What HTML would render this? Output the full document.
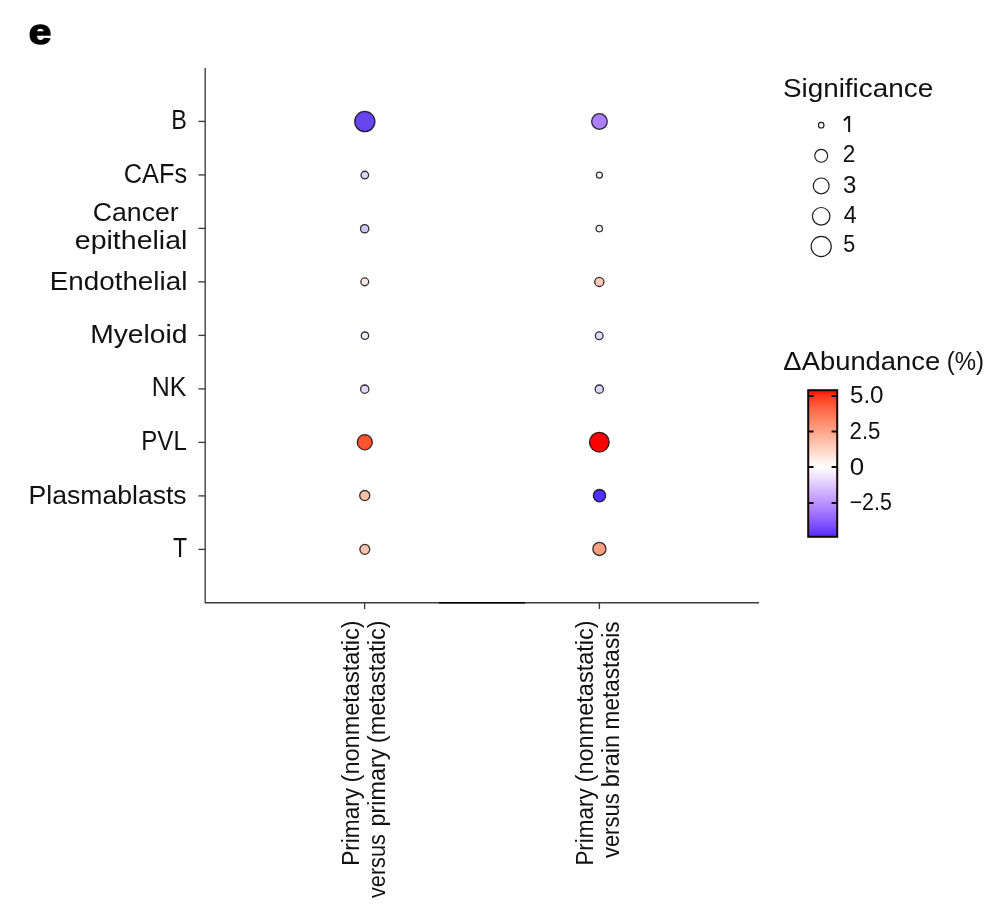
<!DOCTYPE html>
<html><head><meta charset="utf-8"><style>
html,body{margin:0;padding:0;background:#fff;}
svg{display:block;font-family:"Liberation Sans", sans-serif;will-change:transform;}
</style></head><body>
<svg width="1005" height="918" viewBox="0 0 1005 918">
<rect width="1005" height="918" fill="#fff"/>
<text x="28.77" y="44.30" font-size="35" font-weight="bold" fill="#000" textLength="22.59" lengthAdjust="spacingAndGlyphs" stroke="#000" stroke-width="1.4" stroke-linejoin="round">e</text>
<path d="M205.2 68 V602.75 H759.1" fill="none" stroke="#3c3c3c" stroke-width="1.35"/>
<path d="M439 602.75 H525" stroke="#000" stroke-width="1.5"/>
<path d="M198.4 121.40 H205.2" stroke="#3c3c3c" stroke-width="1.35"/>
<path d="M198.4 174.90 H205.2" stroke="#3c3c3c" stroke-width="1.35"/>
<path d="M198.4 228.40 H205.2" stroke="#3c3c3c" stroke-width="1.35"/>
<path d="M198.4 281.90 H205.2" stroke="#3c3c3c" stroke-width="1.35"/>
<path d="M198.4 335.40 H205.2" stroke="#3c3c3c" stroke-width="1.35"/>
<path d="M198.4 388.90 H205.2" stroke="#3c3c3c" stroke-width="1.35"/>
<path d="M198.4 442.40 H205.2" stroke="#3c3c3c" stroke-width="1.35"/>
<path d="M198.4 495.90 H205.2" stroke="#3c3c3c" stroke-width="1.35"/>
<path d="M198.4 549.40 H205.2" stroke="#3c3c3c" stroke-width="1.35"/>
<path d="M364.6 602.75 V609" stroke="#3c3c3c" stroke-width="1.35"/>
<path d="M599.4 602.75 V609" stroke="#3c3c3c" stroke-width="1.35"/>
<text x="171.20" y="129.00" font-size="27.0" font-weight="normal" fill="#111" textLength="15.60" lengthAdjust="spacingAndGlyphs">B</text>
<text x="123.63" y="182.90" font-size="27.0" font-weight="normal" fill="#111" textLength="63.49" lengthAdjust="spacingAndGlyphs">CAFs</text>
<text x="92.77" y="220.80" font-size="26.5" font-weight="normal" fill="#111" textLength="85.99" lengthAdjust="spacingAndGlyphs">Cancer</text>
<text x="74.86" y="249.30" font-size="26.5" font-weight="normal" fill="#111" textLength="112.45" lengthAdjust="spacingAndGlyphs">epithelial</text>
<text x="49.72" y="289.70" font-size="26.5" font-weight="normal" fill="#111" textLength="137.60" lengthAdjust="spacingAndGlyphs">Endothelial</text>
<text x="90.24" y="343.00" font-size="26.5" font-weight="normal" fill="#111" textLength="97.31" lengthAdjust="spacingAndGlyphs">Myeloid</text>
<text x="151.81" y="396.30" font-size="27.0" font-weight="normal" fill="#111" textLength="34.57" lengthAdjust="spacingAndGlyphs">NK</text>
<text x="141.27" y="449.70" font-size="27.0" font-weight="normal" fill="#111" textLength="45.60" lengthAdjust="spacingAndGlyphs">PVL</text>
<text x="28.57" y="503.60" font-size="26.5" font-weight="normal" fill="#111" textLength="158.10" lengthAdjust="spacingAndGlyphs">Plasmablasts</text>
<text x="173.04" y="556.90" font-size="27.0" font-weight="normal" fill="#111" textLength="14.14" lengthAdjust="spacingAndGlyphs">T</text>
<circle cx="364.8" cy="121.55" r="10.10" fill="#6644ee" stroke="#000" stroke-opacity="0.8" stroke-width="1.3"/>
<circle cx="364.8" cy="175.05" r="3.80" fill="#dcd3ff" stroke="#000" stroke-opacity="0.8" stroke-width="1.3"/>
<circle cx="364.65" cy="228.75" r="4.15" fill="#d4c4ff" stroke="#000" stroke-opacity="0.8" stroke-width="1.3"/>
<circle cx="364.75" cy="281.85" r="3.90" fill="#f8e8e4" stroke="#000" stroke-opacity="0.8" stroke-width="1.3"/>
<circle cx="364.95" cy="335.7" r="3.70" fill="#eeeaf8" stroke="#000" stroke-opacity="0.8" stroke-width="1.3"/>
<circle cx="364.75" cy="389.15" r="4.15" fill="#e0d8f8" stroke="#000" stroke-opacity="0.8" stroke-width="1.3"/>
<circle cx="364.8" cy="442.25" r="7.55" fill="#fb5530" stroke="#000" stroke-opacity="0.8" stroke-width="1.3"/>
<circle cx="364.75" cy="495.55" r="5.05" fill="#f8c0a8" stroke="#000" stroke-opacity="0.8" stroke-width="1.3"/>
<circle cx="364.8" cy="549.35" r="4.95" fill="#f9c2ac" stroke="#000" stroke-opacity="0.8" stroke-width="1.3"/>
<circle cx="599.45" cy="121.5" r="7.80" fill="#aa80ff" stroke="#000" stroke-opacity="0.8" stroke-width="1.3"/>
<circle cx="599.4" cy="175.1" r="3.05" fill="#ffffff" stroke="#000" stroke-opacity="0.8" stroke-width="1.3"/>
<circle cx="599.3" cy="228.6" r="3.20" fill="#ffffff" stroke="#000" stroke-opacity="0.8" stroke-width="1.3"/>
<circle cx="599.3" cy="281.9" r="4.60" fill="#f8c8b8" stroke="#000" stroke-opacity="0.8" stroke-width="1.3"/>
<circle cx="599.2" cy="335.75" r="3.85" fill="#e4dcff" stroke="#000" stroke-opacity="0.8" stroke-width="1.3"/>
<circle cx="599.3" cy="389.15" r="4.15" fill="#e0d4ff" stroke="#000" stroke-opacity="0.8" stroke-width="1.3"/>
<circle cx="599.35" cy="442.2" r="9.85" fill="#ff0000" stroke="#000" stroke-opacity="0.8" stroke-width="1.3"/>
<circle cx="599.5" cy="495.65" r="6.15" fill="#5030ff" stroke="#000" stroke-opacity="0.8" stroke-width="1.3"/>
<circle cx="599.4" cy="548.95" r="6.55" fill="#f8a080" stroke="#000" stroke-opacity="0.8" stroke-width="1.3"/>
<text x="782.91" y="96.70" font-size="26.5" font-weight="normal" fill="#111" textLength="150.26" lengthAdjust="spacingAndGlyphs">Significance</text>
<circle cx="821.2" cy="125.2" r="2.77" fill="none" stroke="#1a1a1a" stroke-width="1.15"/>
<path d="M843.9 120.6 L848.3 116.6 M849.15 115.9 V131.9" fill="none" stroke="#111" stroke-width="2"/>
<circle cx="821.2" cy="155.8" r="6.47" fill="none" stroke="#1a1a1a" stroke-width="1.15"/>
<text x="842.77" y="161.90" font-size="23.3" font-weight="normal" fill="#111" textLength="12.57" lengthAdjust="spacingAndGlyphs">2</text>
<circle cx="821.2" cy="185.9" r="7.92" fill="none" stroke="#1a1a1a" stroke-width="1.15"/>
<text x="843.14" y="193.00" font-size="23.3" font-weight="normal" fill="#111" textLength="13.37" lengthAdjust="spacingAndGlyphs">3</text>
<circle cx="821.2" cy="216.3" r="8.77" fill="none" stroke="#1a1a1a" stroke-width="1.15"/>
<text x="843.64" y="222.90" font-size="23.3" font-weight="normal" fill="#111" textLength="12.87" lengthAdjust="spacingAndGlyphs">4</text>
<circle cx="821.2" cy="246.5" r="10.07" fill="none" stroke="#1a1a1a" stroke-width="1.15"/>
<text x="843.24" y="252.30" font-size="23.3" font-weight="normal" fill="#111" textLength="11.93" lengthAdjust="spacingAndGlyphs">5</text>
<text x="783.38" y="370.20" font-size="26.5" font-weight="normal" fill="#111" textLength="156.83" lengthAdjust="spacingAndGlyphs">ΔAbundance</text>
<text x="946.76" y="370.20" font-size="26.5" font-weight="normal" fill="#111" textLength="37.30" lengthAdjust="spacingAndGlyphs">(%)</text>
<defs><linearGradient id="cb" x1="0" y1="0" x2="0" y2="1"><stop offset="0.000" stop-color="#ff0100"/><stop offset="0.025" stop-color="#ff2913"/><stop offset="0.050" stop-color="#ff3c21"/><stop offset="0.075" stop-color="#ff4c2d"/><stop offset="0.100" stop-color="#ff5938"/><stop offset="0.125" stop-color="#ff6544"/><stop offset="0.150" stop-color="#ff704f"/><stop offset="0.175" stop-color="#ff7b5a"/><stop offset="0.200" stop-color="#ff8565"/><stop offset="0.225" stop-color="#ff8f70"/><stop offset="0.250" stop-color="#ff997c"/><stop offset="0.275" stop-color="#ffa387"/><stop offset="0.300" stop-color="#ffac93"/><stop offset="0.325" stop-color="#ffb69e"/><stop offset="0.350" stop-color="#ffbfaa"/><stop offset="0.375" stop-color="#ffc8b6"/><stop offset="0.400" stop-color="#ffd2c2"/><stop offset="0.425" stop-color="#ffdbce"/><stop offset="0.450" stop-color="#ffe4da"/><stop offset="0.475" stop-color="#ffede6"/><stop offset="0.500" stop-color="#fff6f3"/><stop offset="0.525" stop-color="#ffffff"/><stop offset="0.550" stop-color="#f9f4ff"/><stop offset="0.575" stop-color="#f2e8ff"/><stop offset="0.600" stop-color="#ebddff"/><stop offset="0.625" stop-color="#e5d2ff"/><stop offset="0.650" stop-color="#dec7ff"/><stop offset="0.675" stop-color="#d6bcff"/><stop offset="0.700" stop-color="#cfb1ff"/><stop offset="0.725" stop-color="#c7a6ff"/><stop offset="0.750" stop-color="#bf9bff"/><stop offset="0.775" stop-color="#b790ff"/><stop offset="0.800" stop-color="#ae86ff"/><stop offset="0.825" stop-color="#a57bff"/><stop offset="0.850" stop-color="#9c70ff"/><stop offset="0.875" stop-color="#9265ff"/><stop offset="0.900" stop-color="#875aff"/><stop offset="0.925" stop-color="#7b4eff"/><stop offset="0.950" stop-color="#6e43ff"/><stop offset="0.975" stop-color="#5f37ff"/><stop offset="1.000" stop-color="#4d29ff"/></linearGradient></defs>
<rect x="808.2" y="390.2" width="29" height="146.6" fill="url(#cb)" stroke="#140808" stroke-width="2"/>
<path d="M808.5 395.9 H813.6 M831.6 395.9 H837" stroke="#140808" stroke-width="2"/>
<path d="M808.5 431.5 H813.6 M831.6 431.5 H837" stroke="#140808" stroke-width="2"/>
<path d="M808.5 467.0 H813.6 M831.6 467.0 H837" stroke="#140808" stroke-width="2"/>
<path d="M808.5 503.1 H813.6 M831.6 503.1 H837" stroke="#140808" stroke-width="2"/>
<text x="849.93" y="403.00" font-size="23.3" font-weight="normal" fill="#111" textLength="33.64" lengthAdjust="spacingAndGlyphs">5.0</text>
<text x="849.59" y="438.50" font-size="23.3" font-weight="normal" fill="#111" textLength="30.90" lengthAdjust="spacingAndGlyphs">2.5</text>
<text x="849.86" y="474.50" font-size="23.3" font-weight="normal" fill="#111" textLength="14.42" lengthAdjust="spacingAndGlyphs">0</text>
<text x="849.63" y="510.00" font-size="23.3" font-weight="normal" fill="#111" textLength="42.20" lengthAdjust="spacingAndGlyphs">−2.5</text>
<text transform="translate(358.70,864.00) rotate(-90)" x="-1.81" y="0" font-size="23" fill="#111" textLength="77.90" lengthAdjust="spacingAndGlyphs">Primary</text>
<text transform="translate(358.70,781.00) rotate(-90)" x="-1.41" y="0" font-size="23" fill="#111" textLength="162.05" lengthAdjust="spacingAndGlyphs">(nonmetastatic)</text>
<text transform="translate(384.50,898.00) rotate(-90)" x="-0.00" y="0" font-size="23" fill="#111" textLength="63.86" lengthAdjust="spacingAndGlyphs">versus</text>
<text transform="translate(384.50,825.05) rotate(-90)" x="-1.40" y="0" font-size="23" fill="#111" textLength="77.83" lengthAdjust="spacingAndGlyphs">primary</text>
<text transform="translate(384.50,741.80) rotate(-90)" x="-1.41" y="0" font-size="23" fill="#111" textLength="122.89" lengthAdjust="spacingAndGlyphs">(metastatic)</text>
<text transform="translate(593.10,863.80) rotate(-90)" x="-1.80" y="0" font-size="23" fill="#111" textLength="77.29" lengthAdjust="spacingAndGlyphs">Primary</text>
<text transform="translate(593.10,781.00) rotate(-90)" x="-1.41" y="0" font-size="23" fill="#111" textLength="162.05" lengthAdjust="spacingAndGlyphs">(nonmetastatic)</text>
<text transform="translate(618.80,858.10) rotate(-90)" x="-0.00" y="0" font-size="23" fill="#111" textLength="64.77" lengthAdjust="spacingAndGlyphs">versus</text>
<text transform="translate(618.80,785.90) rotate(-90)" x="-1.42" y="0" font-size="23" fill="#111" textLength="52.52" lengthAdjust="spacingAndGlyphs">brain</text>
<text transform="translate(618.80,727.80) rotate(-90)" x="-1.58" y="0" font-size="23" fill="#111" textLength="107.86" lengthAdjust="spacingAndGlyphs">metastasis</text>
</svg></body></html>
